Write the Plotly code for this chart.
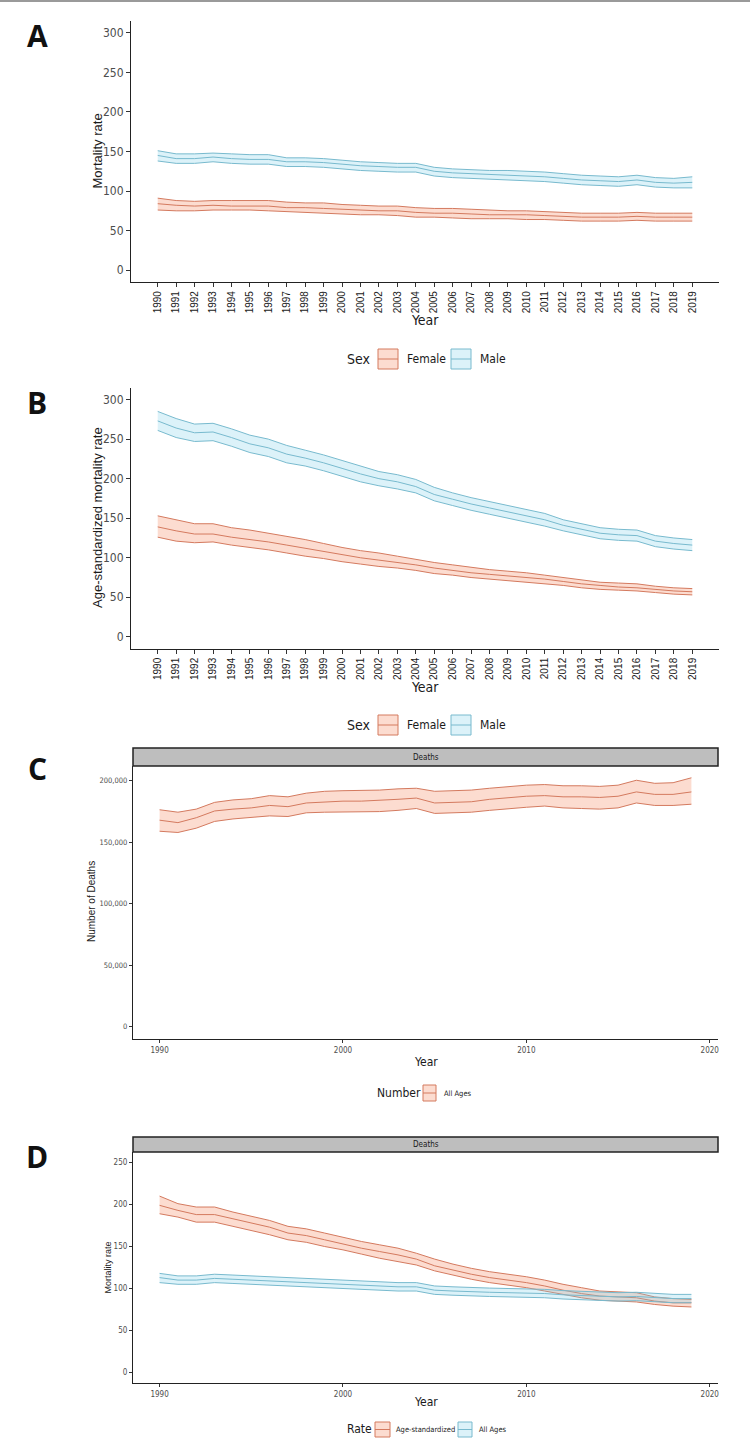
import plotly.graph_objects as go

W, H = 750, 1444

years = list(range(1990, 2020))
year_labels = [str(y) for y in years]

# ---- Panel A: mortality rate by sex ----
a_female_upper = [91, 88, 87, 88, 88, 88, 88, 86, 85, 85, 83, 82, 81, 81, 79, 78, 78, 77, 76, 75, 75, 74, 73, 72, 72, 72, 73, 72, 72, 72]
a_female_mean = [84, 82, 81, 82, 81, 81, 81, 79, 79, 78, 77, 76, 75, 75, 73, 72, 72, 71, 70, 70, 70, 69, 68, 67, 67, 67, 68, 67, 67, 67]
a_female_lower = [76, 75, 75, 76, 76, 76, 75, 74, 73, 72, 71, 70, 70, 69, 67, 67, 66, 65, 65, 65, 64, 64, 63, 62, 62, 62, 63, 62, 62, 62]
a_male_upper = [151, 147, 147, 148, 147, 146, 146, 142, 142, 141, 139, 137, 136, 135, 135, 130, 128, 127, 126, 126, 125, 124, 122, 120, 119, 118, 120, 117, 116, 118]
a_male_mean = [145, 141, 141, 143, 141, 140, 140, 137, 137, 136, 134, 132, 131, 130, 130, 125, 123, 122, 121, 120, 119, 118, 116, 114, 113, 112, 114, 111, 110, 111]
a_male_lower = [138, 135, 135, 137, 135, 134, 134, 131, 131, 130, 128, 126, 125, 124, 124, 119, 117, 116, 115, 114, 113, 112, 110, 108, 107, 106, 108, 105, 104, 104]

# ---- Panel B: age-standardized mortality rate by sex ----
b_female_upper = [153, 148, 143, 143, 138, 135, 131, 127, 123, 118, 113, 109, 106, 102, 98, 94, 91, 88, 85, 83, 81, 78, 75, 72, 69, 68, 67, 64, 62, 61]
b_female_mean = [139, 134, 130, 130, 126, 123, 120, 116, 112, 108, 104, 100, 97, 94, 91, 87, 84, 81, 79, 77, 75, 73, 70, 67, 65, 63, 62, 60, 58, 57]
b_female_lower = [126, 121, 119, 120, 116, 113, 110, 106, 102, 99, 95, 92, 89, 87, 84, 80, 78, 75, 73, 71, 69, 67, 65, 62, 60, 59, 58, 56, 54, 53]
b_male_upper = [285, 276, 269, 270, 263, 255, 250, 242, 236, 230, 223, 216, 209, 205, 199, 189, 182, 176, 171, 166, 161, 156, 148, 143, 138, 136, 135, 128, 125, 123]
b_male_mean = [273, 264, 258, 259, 252, 244, 239, 231, 226, 220, 213, 206, 200, 196, 190, 180, 174, 168, 163, 158, 153, 148, 141, 136, 131, 129, 128, 121, 118, 116]
b_male_lower = [261, 252, 247, 248, 241, 233, 228, 220, 216, 210, 203, 196, 191, 187, 182, 172, 166, 160, 155, 150, 145, 140, 134, 129, 124, 122, 121, 114, 111, 109]

# ---- Panel C: number of deaths, all ages ----
c_deaths_upper = [176500, 174500, 177000, 182500, 184500, 185500, 188000, 187000, 190000, 191500, 192000, 192000, 192500, 193500, 194000, 191500, 192000, 192500, 194000, 195500, 196500, 197000, 196000, 196000, 195500, 196500, 200500, 198000, 198500, 202500]
c_deaths_mean = [168000, 166000, 170000, 175500, 177000, 178000, 180000, 179000, 182000, 183000, 183500, 183500, 184000, 185000, 186000, 182000, 182500, 183000, 185000, 186500, 187500, 188000, 187000, 187000, 186500, 187500, 191000, 189000, 189000, 191000]
c_deaths_lower = [159000, 158000, 161500, 167000, 169000, 170000, 171500, 171000, 174000, 174500, 174500, 175000, 175000, 176000, 177500, 173500, 174000, 174500, 176000, 177500, 178500, 179500, 178000, 177500, 177000, 178000, 182000, 180000, 180000, 181000]

# ---- Panel D: mortality rate, age-standardized vs all ages ----
d_agestd_upper = [210, 201, 197, 197, 191, 186, 181, 174, 171, 166, 161, 156, 152, 148, 142, 135, 129, 124, 120, 117, 114, 110, 105, 101, 97, 96, 95, 90, 88, 87]
d_agestd_mean = [199, 193, 188, 188, 183, 178, 173, 166, 163, 158, 153, 148, 144, 140, 135, 127, 122, 117, 113, 110, 107, 103, 98, 94, 91, 90, 89, 85, 83, 83]
d_agestd_lower = [189, 185, 179, 179, 174, 169, 164, 158, 155, 150, 146, 141, 136, 132, 128, 121, 116, 111, 107, 104, 101, 97, 93, 89, 86, 85, 84, 81, 79, 78]
d_allages_upper = [118, 115, 115, 117, 116, 115, 114, 113, 112, 111, 110, 109, 108, 107, 107, 103, 102, 101, 100.5, 100, 99.5, 99, 97.5, 96.5, 95.5, 95, 95.5, 94, 93, 93]
d_allages_mean = [113, 110, 110, 112, 111, 110, 109, 108, 107, 106, 105, 104, 103, 102, 102, 98, 97, 96, 95.5, 95, 94.5, 94, 92.5, 91.5, 90.5, 90, 90.5, 89, 88, 88]
d_allages_lower = [107, 105, 105, 107, 106, 105, 104, 103, 102, 101, 100, 99, 98, 97, 97, 93, 92, 91, 90.5, 90, 89.5, 89, 87.5, 86.5, 85.5, 85, 85.5, 84, 83, 83]

rate_ticks = [0, 50, 100, 150, 200, 250, 300]
d_ticks = [0, 50, 100, 150, 200, 250]
c_ticks = [0, 50000, 100000, 150000, 200000]
c_tick_labels = ["0", "50,000", "100,000", "150,000", "200,000"]
decade_ticks = [1990, 2000, 2010, 2020]

ORANGE_LINE = "rgb(212,122,95)"
ORANGE_FILL = "rgba(244,140,100,0.30)"
BLUE_LINE = "rgb(120,186,206)"
BLUE_FILL = "rgba(120,205,232,0.26)"

NARROW = "Liberation Sans Narrow, Arial Narrow, DejaVu Sans Condensed, sans-serif"
ARIAL = "Liberation Sans, Arial, sans-serif"
LETTER = "Open Sans, Liberation Sans, sans-serif"


def px(x):
    return x / W


def py(y):
    return 1 - y / H


fig = go.Figure()


def band(xa, ya, lower, mean, upper, lc, fc):
    fig.add_trace(go.Scatter(x=years, y=lower, xaxis=xa, yaxis=ya, mode="lines",
                             line=dict(color=lc, width=1), showlegend=False, hoverinfo="skip"))
    fig.add_trace(go.Scatter(x=years, y=upper, xaxis=xa, yaxis=ya, mode="lines",
                             line=dict(color=lc, width=1), fill="tonexty", fillcolor=fc,
                             showlegend=False, hoverinfo="skip"))
    fig.add_trace(go.Scatter(x=years, y=mean, xaxis=xa, yaxis=ya, mode="lines",
                             line=dict(color=lc, width=1), showlegend=False))


band("x", "y", a_female_lower, a_female_mean, a_female_upper, ORANGE_LINE, ORANGE_FILL)
band("x", "y", a_male_lower, a_male_mean, a_male_upper, BLUE_LINE, BLUE_FILL)
band("x2", "y2", b_female_lower, b_female_mean, b_female_upper, ORANGE_LINE, ORANGE_FILL)
band("x2", "y2", b_male_lower, b_male_mean, b_male_upper, BLUE_LINE, BLUE_FILL)
band("x3", "y3", c_deaths_lower, c_deaths_mean, c_deaths_upper, ORANGE_LINE, ORANGE_FILL)
band("x4", "y4", d_agestd_lower, d_agestd_mean, d_agestd_upper, ORANGE_LINE, ORANGE_FILL)
band("x4", "y4", d_allages_lower, d_allages_mean, d_allages_upper, BLUE_LINE, BLUE_FILL)

XR = [1988.55, 2020.45]
common = dict(showline=True, linecolor="#222222", linewidth=1.2, ticks="outside", ticklen=4,
              tickcolor="#333333", tickwidth=1, showgrid=False, zeroline=False, fixedrange=True)

layout = dict(
    width=W, height=H, autosize=False,
    margin=dict(l=0, r=0, t=0, b=0),
    paper_bgcolor="white", plot_bgcolor="white",
    showlegend=False,
)

# Panel A
layout["xaxis"] = dict(common, domain=[px(131), px(719)], anchor="y", range=XR,
                       tickmode="array", tickvals=years, ticktext=year_labels, tickangle=-90,
                       tickfont=dict(family=ARIAL, size=10, color="#1a1a1a"))
layout["yaxis"] = dict(common, domain=[py(282), py(21)], anchor="x", range=[-15, 315],
                       tickmode="array", tickvals=rate_ticks,
                       tickfont=dict(family=NARROW, size=12, color="#4d4d4d"))
# Panel B
layout["xaxis2"] = dict(common, domain=[px(131), px(719)], anchor="y2", range=XR,
                        tickmode="array", tickvals=years, ticktext=year_labels, tickangle=-90,
                        tickfont=dict(family=ARIAL, size=10, color="#1a1a1a"))
layout["yaxis2"] = dict(common, domain=[py(648.7), py(387.7)], anchor="x2", range=[-15, 315],
                        tickmode="array", tickvals=rate_ticks,
                        tickfont=dict(family=NARROW, size=12, color="#4d4d4d"))
# Panel C
layout["xaxis3"] = dict(common, domain=[px(133), px(718)], anchor="y3", range=XR,
                        tickmode="array", tickvals=decade_ticks, ticklen=3,
                        tickfont=dict(family=NARROW, size=8, color="#4d4d4d"))
layout["yaxis3"] = dict(common, domain=[py(1039), py(766)], anchor="x3", range=[-10100, 212100],
                        tickmode="array", tickvals=c_ticks, ticktext=c_tick_labels, ticklen=3,
                        tickfont=dict(family=NARROW, size=7.5, color="#4d4d4d"))
# Panel D
layout["xaxis4"] = dict(common, domain=[px(133), px(718)], anchor="y4", range=XR,
                        tickmode="array", tickvals=decade_ticks, ticklen=3,
                        tickfont=dict(family=NARROW, size=8, color="#4d4d4d"))
layout["yaxis4"] = dict(common, domain=[py(1383), py(1152)], anchor="x4", range=[-12.5, 262.5],
                        tickmode="array", tickvals=d_ticks, ticklen=3,
                        tickfont=dict(family=NARROW, size=8, color="#4d4d4d"))

fig.update_layout(**layout)

ann = []
shapes = []


def text(x, y, s, size, family=NARROW, color="#1a1a1a", xanchor="center", angle=0, bold=False):
    ann.append(dict(x=px(x), y=py(y), xref="paper", yref="paper", text=("<b>%s</b>" % s) if bold else s,
                    showarrow=False, xanchor=xanchor, yanchor="middle", textangle=angle,
                    font=dict(family=family, size=size, color=color)))


def key(x0, x1, y0, y1, lc, fc):
    shapes.append(dict(type="rect", xref="paper", yref="paper", x0=px(x0), x1=px(x1), y0=py(y1), y1=py(y0),
                       fillcolor=fc, line=dict(color=lc, width=1)))
    ym = (y0 + y1) / 2
    shapes.append(dict(type="line", xref="paper", yref="paper", x0=px(x0), x1=px(x1), y0=py(ym), y1=py(ym),
                       line=dict(color=lc, width=1)))


# top border
shapes.append(dict(type="line", xref="paper", yref="paper", x0=0, x1=1, y0=py(1), y1=py(1),
                   line=dict(color="#9a9a9a", width=2)))

# panel letters
for letter, yy in (("A", 36), ("B", 402), ("C", 768), ("D", 1156)):
    text(37, yy, letter, 30, family=LETTER, color="#111111", bold=True)

# Panel A titles & legend
text(97, 151.5, "Mortality rate", 13, family=ARIAL, angle=-90)
text(425, 320, "Year", 14)
text(359, 359, "Sex", 14)
key(378, 398, 349, 369, ORANGE_LINE, ORANGE_FILL)
text(405, 359, "Female", 12, xanchor="left")
key(451, 471, 349, 369, BLUE_LINE, BLUE_FILL)
text(478, 359, "Male", 12, xanchor="left")

# Panel B titles & legend
text(97, 518, "Age-standardized mortality rate", 13, family=ARIAL, angle=-90)
text(425, 687, "Year", 14)
text(359, 725, "Sex", 14)
key(378, 398, 715, 735, ORANGE_LINE, ORANGE_FILL)
text(405, 725, "Female", 12, xanchor="left")
key(451, 471, 715, 735, BLUE_LINE, BLUE_FILL)
text(478, 725, "Male", 12, xanchor="left")

# Panel C strip, titles, legend
shapes.append(dict(type="rect", xref="paper", yref="paper", x0=px(133), x1=px(718), y0=py(766), y1=py(748),
                   fillcolor="#bebebe", line=dict(color="#222222", width=1.5)))
text(425.5, 757, "Deaths", 8)
text(91, 902, "Number of Deaths", 10, family=ARIAL, angle=-90)
text(425.5, 1062, "Year", 12)
text(399, 1093, "Number", 12)
key(423, 436, 1085, 1101, ORANGE_LINE, ORANGE_FILL)
text(442, 1093, "All Ages", 7.5, xanchor="left")

# Panel D strip, titles, legend
shapes.append(dict(type="rect", xref="paper", yref="paper", x0=px(133), x1=px(718), y0=py(1152), y1=py(1137),
                   fillcolor="#bebebe", line=dict(color="#222222", width=1.5)))
text(425.5, 1144.5, "Deaths", 8)
text(107, 1267.5, "Mortality rate", 9, family=ARIAL, angle=-90)
text(425.5, 1402, "Year", 12)
text(359, 1429, "Rate", 12)
key(375, 390, 1422, 1437, ORANGE_LINE, ORANGE_FILL)
text(394, 1429, "Age-standardized", 7.5, xanchor="left")
key(458, 472, 1422, 1437, BLUE_LINE, BLUE_FILL)
text(477, 1429, "All Ages", 7.5, xanchor="left")

fig.update_layout(annotations=ann, shapes=shapes)

fig.write_html("out.html", config={"displayModeBar": False},
               post_script="document.body.style.margin='0px';document.body.style.overflow='hidden';")
